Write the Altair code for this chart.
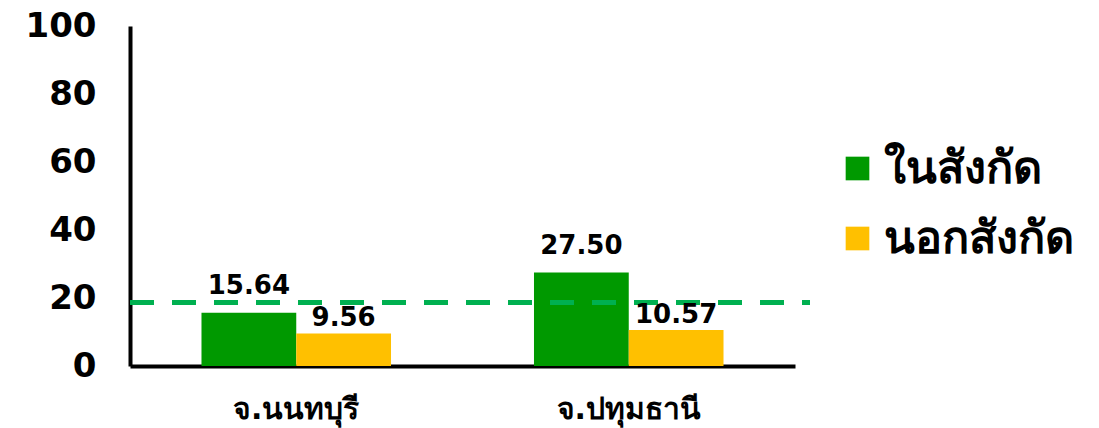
import altair as alt
import pandas as pd

# Provinces, series and values
provinces = ["จ.นนทบุรี", "จ.ปทุมธานี"]
series = ["ในสังกัด", "นอกสังกัด"]
in_values = [15.64, 27.50]
out_values = [9.56, 10.57]
reference_value = 18.7
y_ticks = [0, 20, 40, 60, 80, 100]

colors = ["#009900", "#FFC000"]
font = "DejaVu Sans"

rows = []
for i, p in enumerate(provinces):
    rows.append({"province": p, "series": series[0], "value": in_values[i]})
    rows.append({"province": p, "series": series[1], "value": out_values[i]})
df = pd.DataFrame(rows)

W, H = 665, 340

x_enc = alt.X(
    "province:N",
    sort=provinces,
    title=None,
    scale=alt.Scale(paddingInner=0.43, paddingOuter=0.215),
    axis=alt.Axis(
        labelAngle=0,
        labelFont=font,
        labelFontSize=30,
        labelFontWeight="bold",
        labelColor="black",
        labelPadding=28,
        ticks=False,
        domainColor="black",
        domainWidth=4,
    ),
)
y_enc = alt.Y(
    "value:Q",
    title=None,
    scale=alt.Scale(domain=[0, 100], nice=False),
    axis=alt.Axis(
        values=y_ticks,
        grid=False,
        ticks=False,
        labelFont=font,
        labelFontSize=34,
        labelFontWeight="bold",
        labelColor="black",
        labelPadding=34,
        domainColor="black",
        domainWidth=4,
    ),
)

bars = alt.Chart(df).mark_bar().encode(
    x=x_enc,
    xOffset=alt.XOffset("series:N", sort=series),
    y=y_enc,
    color=alt.Color(
        "series:N",
        sort=series,
        scale=alt.Scale(domain=series, range=colors),
        legend=alt.Legend(
            title=None,
            orient="none",
            legendX=705,
            legendY=120,
            symbolType="square",
            symbolSize=560,
            symbolStrokeWidth=0,
            labelFont=font,
            labelFontSize=45,
            labelFontWeight="bold",
            labelColor="black",
            labelOffset=4,
            labelLimit=0,
            rowPadding=24,
        ),
    ),
)

def labels(name, dy):
    return (
        alt.Chart(df)
        .transform_filter(alt.datum.series == name)
        .mark_text(font=font, fontSize=26, fontWeight="bold", color="black", baseline="bottom", dy=dy)
        .encode(
            x=alt.X("province:N", sort=provinces),
            xOffset=alt.XOffset("series:N", sort=series),
            y="value:Q",
            text=alt.Text("value:Q", format=".2f"),
        )
    )

ref = alt.Chart(pd.DataFrame({"v": [reference_value]})).mark_rule(
    color="#00B050", strokeWidth=5, strokeDash=[24, 18]
).encode(y="v:Q", x=alt.value(0), x2=alt.value(680))

chart = (
    alt.layer(bars, ref, labels(series[0], -14), labels(series[1], -2))
    .properties(
        width=W,
        height=H,
        background="white",
        autosize=alt.AutoSizeParams(type="none"),
        padding={"left": 130, "top": 26, "right": 1099 - 130 - W, "bottom": 428 - 26 - H},
    )
    .configure_view(stroke=None, strokeWidth=0)
)

chart.save("out.html", embed_options={"renderer": "svg", "actions": False})
